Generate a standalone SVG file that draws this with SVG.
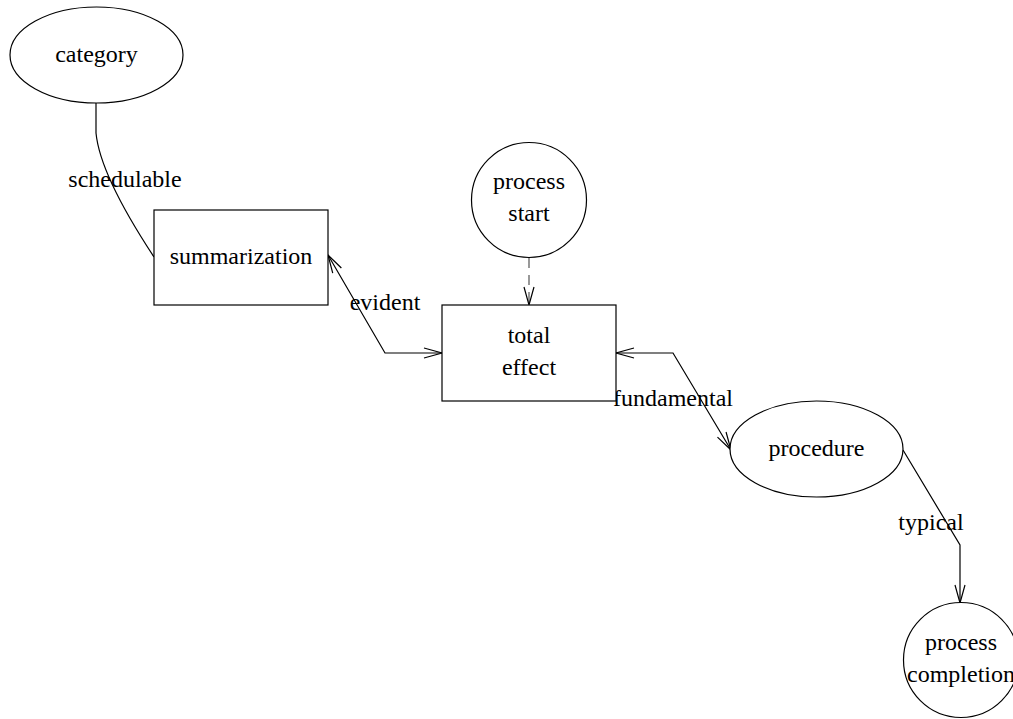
<svg xmlns="http://www.w3.org/2000/svg" width="1013" height="719" viewBox="0 0 1013 719">
<style>
.shape{fill:#fff;stroke:#000;stroke-width:1.2}
.edge{fill:none;stroke:#000;stroke-width:1.2}
.dash{stroke-dasharray:10,7;stroke:#555}
text{font-family:"Liberation Serif","Times New Roman",serif;font-size:24px;fill:#000;text-anchor:middle}
</style>
<defs>
<marker id="arr" markerUnits="userSpaceOnUse" markerWidth="24" markerHeight="14" viewBox="-20 -7 24 14" refX="0" refY="0" orient="auto-start-reverse">
<path d="M-18,-5 L0,0 L-18,5" fill="none" stroke="#000" stroke-width="1.2"/>
</marker>
</defs>
<rect width="1013" height="719" fill="#fff"/>
<g id="connectors">
<path class="edge" d="M96,103 L96,133 Q100,175 154,257"/>
<path class="edge" d="M328,255 L385,353 L442,353" marker-start="url(#arr)" marker-end="url(#arr)"/>
<path class="edge dash" d="M529,258 L529,305" marker-end="url(#arr)"/>
<path class="edge" d="M616,353 L673,353 L731,450" marker-start="url(#arr)" marker-end="url(#arr)"/>
<path class="edge" d="M903,450 L960,545 L960,603" marker-end="url(#arr)"/>
<text x="125" y="187">schedulable</text>
<text x="385" y="310">evident</text>
<text x="673" y="406">fundamental</text>
<text x="931" y="530">typical</text>
</g>
<g id="category">
<ellipse class="shape" cx="96.5" cy="55" rx="86.5" ry="48"/>
<text x="96.5" y="62">category</text>
</g>
<g id="summarization">
<rect class="shape" x="154" y="210" width="174" height="95"/>
<text x="241" y="264">summarization</text>
</g>
<g id="process_start">
<circle class="shape" cx="529" cy="200" r="57.5"/>
<text x="529" y="189">process</text>
<text x="529" y="221">start</text>
</g>
<g id="total_effect">
<rect class="shape" x="442" y="305" width="174" height="96"/>
<text x="529" y="343">total</text>
<text x="529" y="375">effect</text>
</g>
<g id="procedure">
<ellipse class="shape" cx="816.5" cy="449" rx="86.5" ry="48"/>
<text x="816.5" y="456">procedure</text>
</g>
<g id="process_completion">
<circle class="shape" cx="961" cy="660" r="57.5"/>
<text x="961" y="650">process</text>
<text x="961" y="682">completion</text>
</g>
</svg>
